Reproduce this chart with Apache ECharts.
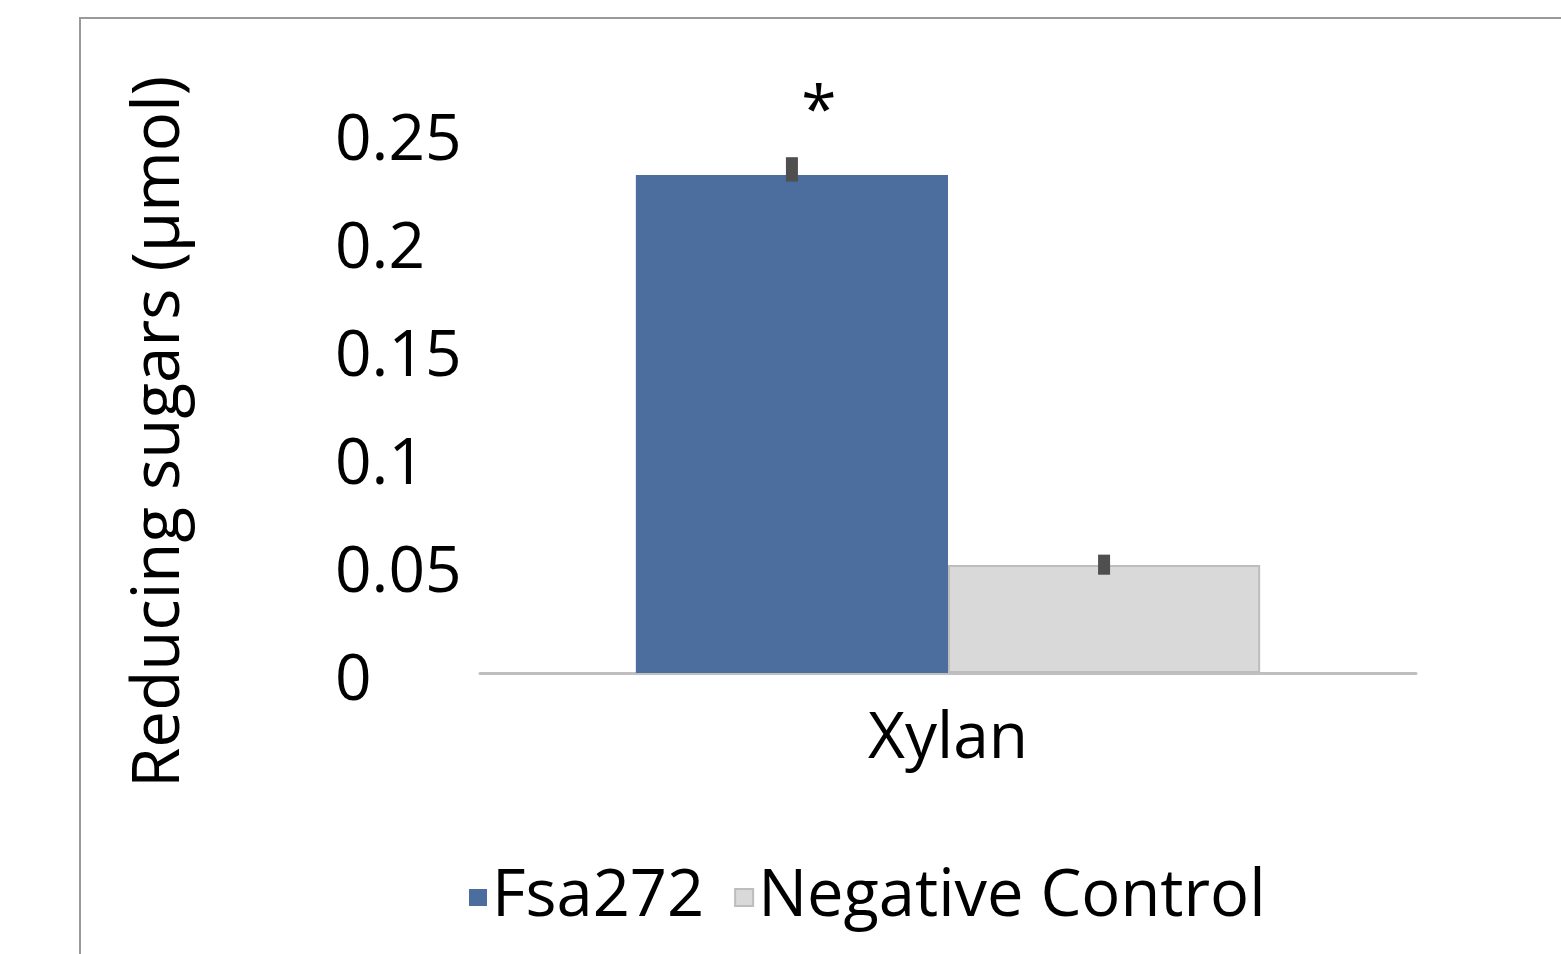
<!DOCTYPE html>
<html>
<head>
<meta charset="utf-8">
<script src="https://cdn.jsdelivr.net/npm/echarts@6/dist/echarts.min.js"></script>
<style>
html,body{margin:0;padding:0;background:#fff;}
#chart{width:1561px;height:954px;}
</style>
</head>
<body>
<div id="chart"></div>
<script>
const categories = ['Xylan'];
const seriesNames = ['Fsa272', 'Negative Control'];
const fsa272 = [0.2305];
const negControl = [0.050];
const fsa272ErrLow = [0.2275];
const fsa272ErrHigh = [0.2388];
const negErrLow = [0.0455];
const negErrHigh = [0.0548];
const yTicks = [0, 0.05, 0.1, 0.15, 0.2, 0.25];
const significance = ['*'];

const FONT = 'Open Sans';
const barCatGap = 0.333;
const chart = echarts.init(document.getElementById('chart'));

function errRender(groupIndex, nGroups) {
  return function (params, api) {
    const cat = api.value(0);
    const catWidth = api.size([1, 0])[0];
    const barW = catWidth * (1 - barCatGap) / nGroups;
    const center = api.coord([cat, 0])[0];
    const x = center - barW * nGroups / 2 + barW * (groupIndex + 0.5);
    const yl = api.coord([cat, api.value(1)])[1];
    const yh = api.coord([cat, api.value(2)])[1];
    return {
      type: 'line',
      shape: { x1: x, y1: yl, x2: x, y2: yh },
      style: { stroke: '#4f4f4f', lineWidth: 12 }
    };
  };
}

chart.setOption({
  animation: false,
  textStyle: { fontFamily: FONT },
  graphic: [{
    type: 'rect',
    shape: { x: 80, y: 18, width: 1600, height: 1000 },
    style: { fill: 'none', stroke: '#9a9a9a', lineWidth: 2 },
    silent: true,
    z: -1
  }],
  grid: { left: 480, right: 145, top: 133, bottom: 281, containLabel: false },
  legend: {
    data: seriesNames,
    left: 464,
    top: 860,
    itemWidth: 18,
    itemHeight: 17,
    itemGap: 30,
    textStyle: { fontFamily: FONT, fontSize: 65, color: '#000', padding: [7, 0, 0, 0] },
    icon: 'rect'
  },
  xAxis: {
    type: 'category',
    data: categories,
    axisLine: { lineStyle: { color: '#bfbfbf', width: 3 } },
    axisTick: { show: false },
    axisLabel: { fontFamily: FONT, fontSize: 64, color: '#000', margin: 35 }
  },
  yAxis: {
    type: 'value',
    min: 0,
    max: 0.25,
    interval: 0.05,
    name: 'Reducing sugars (µmol)',
    nameLocation: 'middle',
    nameRotate: 90,
    nameGap: 287,
    nameTextStyle: { fontFamily: FONT, fontSize: 65.5, color: '#000', padding: [0, 58, 0, 0] },
    axisLine: { show: false },
    axisTick: { show: false },
    splitLine: { show: false },
    axisLabel: {
      fontFamily: FONT, fontSize: 64, color: '#000', align: 'left', margin: 145,
      verticalAlign: 'top',
      lineHeight: 18,
      formatter: function (v) {
        const t = yTicks.find(function (k) { return Math.abs(k - v) < 1e-9; });
        return t === undefined ? '' : String(t);
      }
    }
  },
  series: [
    {
      name: seriesNames[0],
      type: 'bar',
      data: fsa272,
      barGap: '0%',
      barCategoryGap: (barCatGap * 100) + '%',
      itemStyle: { color: '#4b6e9e' },
      label: {
        show: true,
        position: 'top',
        offset: [27, -24],
        fontFamily: FONT,
        fontSize: 64,
        color: '#000',
        formatter: function (p) { return significance[p.dataIndex] || ''; }
      }
    },
    {
      name: seriesNames[1],
      type: 'bar',
      data: negControl,
      barGap: '0%',
      barCategoryGap: (barCatGap * 100) + '%',
      itemStyle: { color: '#d9d9d9', borderColor: '#bdbdbd', borderWidth: 2 }
    },
    {
      type: 'custom',
      renderItem: errRender(0, 2),
      data: categories.map(function (c, i) { return [i, fsa272ErrLow[i], fsa272ErrHigh[i]]; }),
      encode: { x: 0, y: [1, 2] },
      z: 5,
      silent: true
    },
    {
      type: 'custom',
      renderItem: errRender(1, 2),
      data: categories.map(function (c, i) { return [i, negErrLow[i], negErrHigh[i]]; }),
      encode: { x: 0, y: [1, 2] },
      z: 5,
      silent: true
    }
  ]
});
</script>
</body>
</html>
